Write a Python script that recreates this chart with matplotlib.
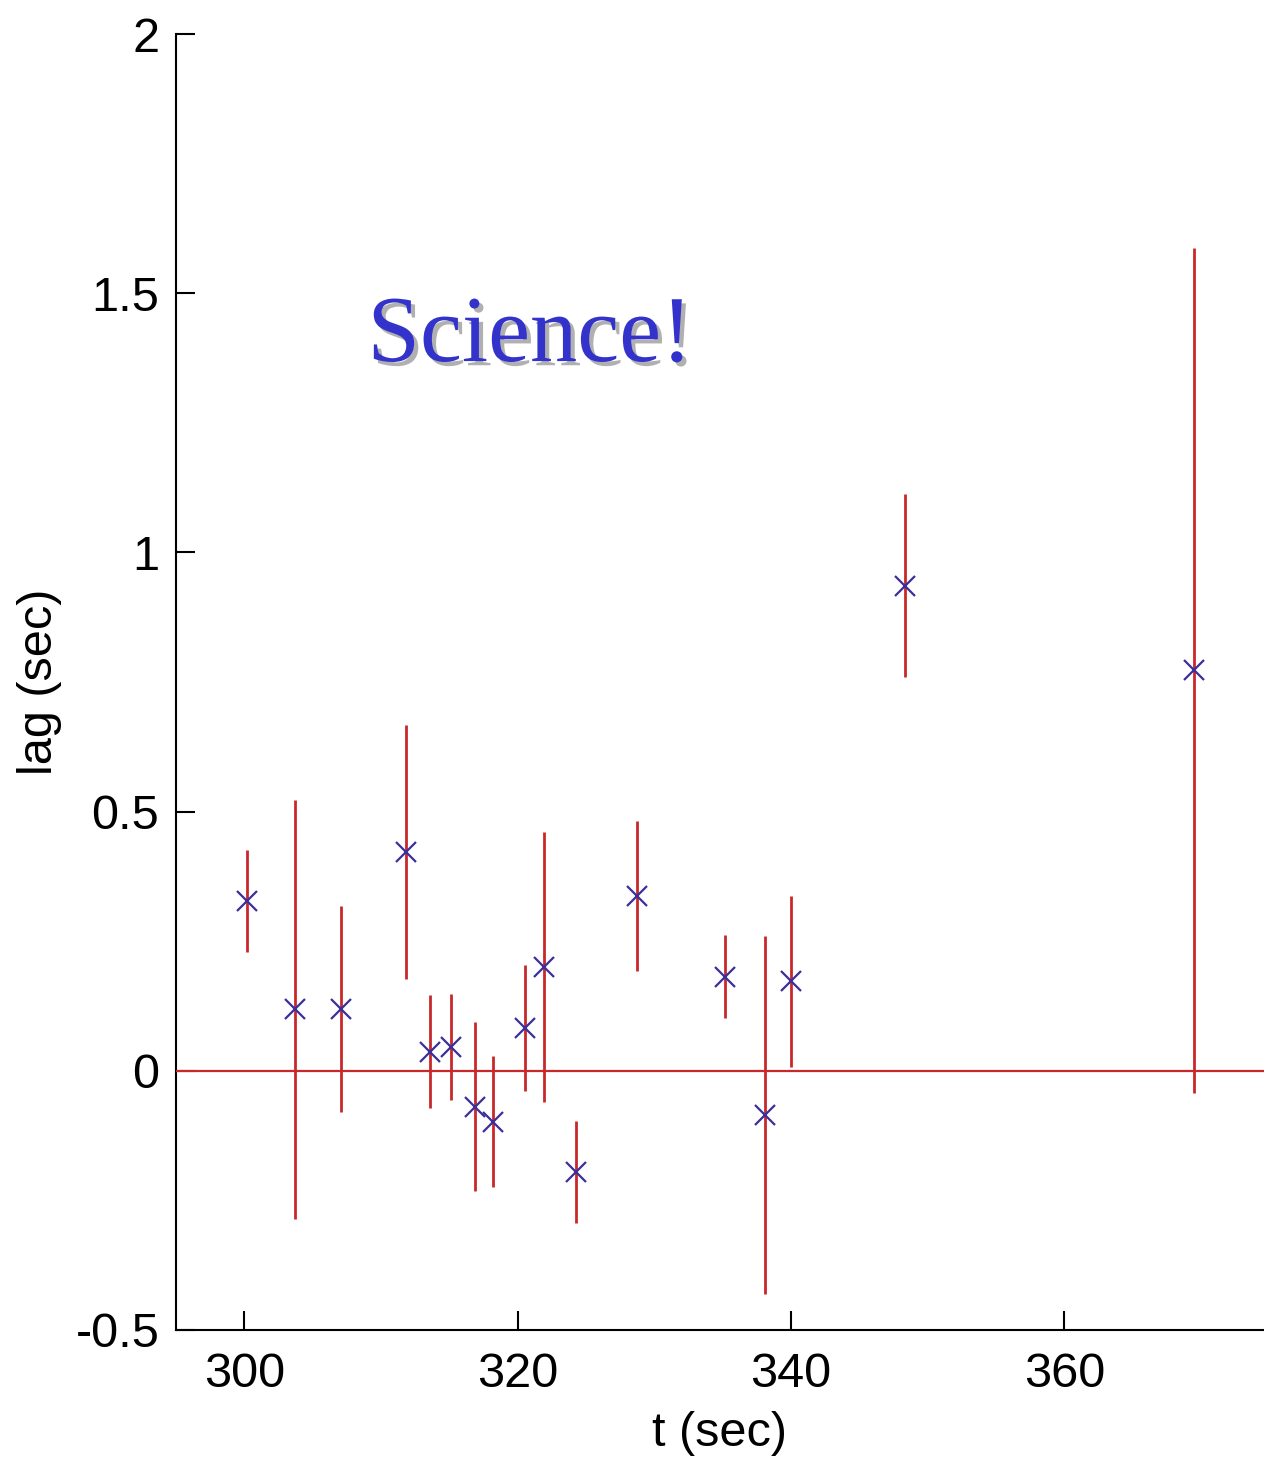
import numpy as np
import matplotlib.pyplot as plt
import matplotlib.patheffects as pe

# lag measurements vs time
t = [300.2, 303.7, 307.1, 311.85, 313.6, 315.1, 316.9, 318.2, 320.5,
     321.9, 324.3, 328.75, 335.2, 338.1, 340.0, 348.3, 369.45]
lag = [0.328, 0.119, 0.119, 0.422, 0.037, 0.046, -0.069, -0.098, 0.083,
       0.200, -0.195, 0.337, 0.181, -0.085, 0.173, 0.936, 0.773]
err = [0.098, 0.404, 0.198, 0.245, 0.109, 0.102, 0.163, 0.127, 0.122,
       0.261, 0.099, 0.145, 0.080, 0.345, 0.165, 0.176, 0.815]

xticks = [300, 320, 340, 360]
yticks = [-0.5, 0, 0.5, 1, 1.5, 2]
yticklabels = ['-0.5', '0', '0.5', '1', '1.5', '2']

plt.rcParams['font.family'] = ['Liberation Sans', 'DejaVu Sans']

fig = plt.figure(figsize=(12.64, 14.67), dpi=100)
ax = fig.add_axes([0.1392, 0.0934, 1 - 0.1392, 0.8834])

red = '#c8282a'
ax.axhline(0, color=red, linewidth=1.6, zorder=3)
ax.errorbar(t, lag, yerr=err, fmt='none', ecolor=red, elinewidth=2, capsize=0, zorder=3)
ax.plot(t, lag, 'x', color='#3b2f9a', markersize=15, markeredgewidth=1.6, zorder=4)

ax.set_xlim(295, 374.6)
ax.set_ylim(-0.5, 2)
ax.set_xticks(xticks)
ax.set_yticks(yticks)
ax.set_yticklabels(yticklabels)
ax.tick_params(direction='in', length=14, width=1.5, labelsize=35)
ax.tick_params(axis='x', pad=16)
ax.tick_params(axis='y', pad=12)
ax.spines['top'].set_visible(False)
ax.spines['right'].set_visible(False)
for s in ['left', 'bottom']:
    ax.spines[s].set_linewidth(1.5)

ax.set_xlabel('t (sec)', fontsize=35, labelpad=10)
ax.set_ylabel('lag (sec)', fontsize=35, labelpad=10)

ax.text(0.176, 0.765, 'Science!', transform=ax.transAxes, fontsize=68,
        family='Liberation Serif', color='#3333cc', va='center', ha='left',
        path_effects=[pe.SimplePatchShadow(offset=(3, -3), shadow_rgbFace='#b0b0b0', alpha=1.0),
                      pe.Normal()])

fig.savefig('out.png', dpi=100)
